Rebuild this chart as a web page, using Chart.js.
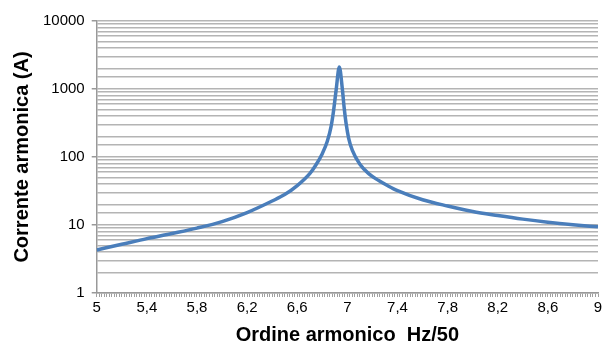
<!DOCTYPE html>
<html>
<head>
<meta charset="utf-8">
<script src="https://cdn.jsdelivr.net/npm/chart.js@4/dist/chart.umd.min.js"></script>
<style>
  html, body { margin: 0; padding: 0; background: #fff; }
  #wrap { width: 608px; height: 347px; }
</style>
</head>
<body>
<div id="wrap"><canvas id="chart" width="608" height="347"></canvas></div>
<script>
// harmonic order (Hz/50) and harmonic current (A)
const ordine = [5.0, 5.2, 5.4, 5.6, 5.8, 6.0, 6.2, 6.4, 6.5, 6.6, 6.7, 6.75, 6.8, 6.84, 6.87, 6.89, 6.91, 6.936,
  6.96, 6.975, 6.99, 7.01, 7.04, 7.1, 7.17, 7.25, 7.32, 7.4, 7.6, 7.8, 8.0, 8.2, 8.4, 8.6, 8.8, 9.0]
const corrente = [4.3, 5.2, 6.3, 7.5, 9.0, 11.2, 15.2, 22.5, 28, 38, 57, 77, 112, 170, 280, 480, 950, 2100,
  1000, 520, 310, 190, 125, 78, 57, 45, 38, 32, 23.5, 19, 15.8, 13.8, 12.2, 11.0, 10.1, 9.4]
const yTicks = [1, 10, 100, 1000, 10000]

const gridGray = '#b4b4b4'
const font = 'Liberation Sans, Arial, sans-serif'

const points = ordine.map((x, i) => ({ x: x, y: corrente[i] }))

new Chart(document.getElementById('chart'), {
  type: 'line',
  data: {
    datasets: [{
      data: points,
      borderColor: '#4a7ebb',
      borderWidth: 3.5,
      pointRadius: 0,
      fill: false,
      cubicInterpolationMode: 'monotone',
    }]
  },
  options: {
    responsive: false,
    animation: false,
    layout: { padding: { top: 21, right: 10, left: 10, bottom: 0 } },
    plugins: { legend: { display: false }, tooltip: { enabled: false } },
    scales: {
      x: {
        type: 'linear',
        min: 5,
        max: 9,
        ticks: {
          count: 201,
          autoSkip: false,
          maxRotation: 0,
          color: '#000',
          font: { family: font, size: 15 },
          padding: 2,
          // only every 0.4 gets a label, comma decimals
          callback: (v) => {
            const k = Math.round((v - 5) * 100)
            if (k % 40 !== 0) return ''
            return String(Math.round(v * 10) / 10).replace('.', ',')
          }
        },
        grid: { drawOnChartArea: false, color: '#a0a0a0', tickLength: 4, lineWidth: 1 },
        border: { color: '#999', width: 1.5 },
        title: {
          display: true,
          text: 'Ordine armonico  Hz/50',
          color: '#000',
          font: { family: font, size: 20, weight: 'bold' },
          padding: { top: 4, bottom: 0 }
        }
      },
      y: {
        type: 'logarithmic',
        min: 1,
        max: 10000,
        ticks: {
          autoSkip: false,
          color: '#000',
          font: { family: font, size: 15 },
          padding: 7,
          callback: (v) => yTicks.includes(v) ? String(v) : ''
        },
        grid: {
          color: gridGray,
          lineWidth: 1.5,
          tickLength: 5,
          tickColor: (ctx) => ctx.tick && yTicks.includes(ctx.tick.value) ? '#999' : 'rgba(0,0,0,0)'
        },
        border: { color: '#999', width: 1.5 },
        title: {
          display: true,
          text: 'Corrente armonica (A)',
          color: '#000',
          font: { family: font, size: 20, weight: 'bold' },
          padding: { top: 0, bottom: 2 }
        }
      }
    }
  }
})
</script>
</body>
</html>
